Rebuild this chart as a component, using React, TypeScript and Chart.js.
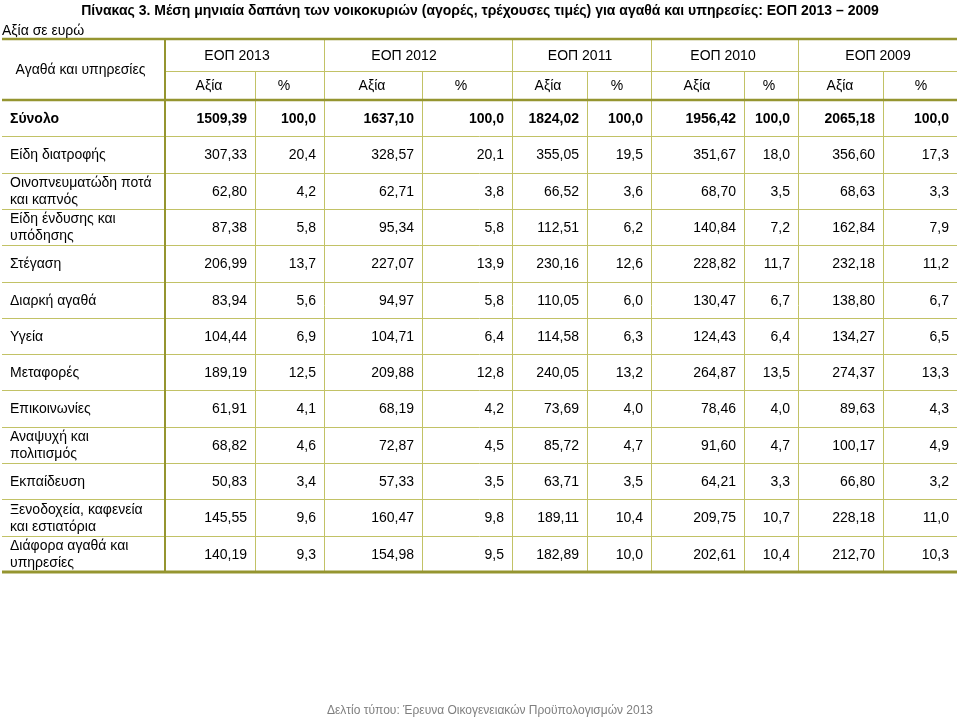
import React, { useEffect, useRef } from "react";
import { Chart, registerables } from "chart.js";

Chart.register(...registerables);

// ---------- texts ----------
const TITLE =
  "Πίνακας 3. Μέση μηνιαία δαπάνη των νοικοκυριών (αγορές, τρέχουσες τιμές) για αγαθά και υπηρεσίες: ΕΟΠ 2013 – 2009";
const UNIT_LABEL = "Αξία σε ευρώ";
const ROW_HEADER = "Αγαθά και υπηρεσίες";
const FOOTER = "Δελτίο τύπου: Έρευνα Οικογενειακών Προϋπολογισμών 2013";

// ---------- data ----------
const YEARS = ["ΕΟΠ 2013", "ΕΟΠ 2012", "ΕΟΠ 2011", "ΕΟΠ 2010", "ΕΟΠ 2009"];
const SUB_HEADERS = ["Αξία", "%"];

const CATEGORIES = [
  "Σύνολο",
  "Είδη διατροφής",
  "Οινοπνευματώδη ποτά\nκαι καπνός",
  "Είδη ένδυσης και\nυπόδησης",
  "Στέγαση",
  "Διαρκή αγαθά",
  "Υγεία",
  "Μεταφορές",
  "Επικοινωνίες",
  "Αναψυχή και\nπολιτισμός",
  "Εκπαίδευση",
  "Ξενοδοχεία, καφενεία\nκαι εστιατόρια",
  "Διάφορα αγαθά και\nυπηρεσίες",
];

const VALUES_2013 = [1509.39, 307.33, 62.8, 87.38, 206.99, 83.94, 104.44, 189.19, 61.91, 68.82, 50.83, 145.55, 140.19];
const PCT_2013 = [100.0, 20.4, 4.2, 5.8, 13.7, 5.6, 6.9, 12.5, 4.1, 4.6, 3.4, 9.6, 9.3];
const VALUES_2012 = [1637.1, 328.57, 62.71, 95.34, 227.07, 94.97, 104.71, 209.88, 68.19, 72.87, 57.33, 160.47, 154.98];
const PCT_2012 = [100.0, 20.1, 3.8, 5.8, 13.9, 5.8, 6.4, 12.8, 4.2, 4.5, 3.5, 9.8, 9.5];
const VALUES_2011 = [1824.02, 355.05, 66.52, 112.51, 230.16, 110.05, 114.58, 240.05, 73.69, 85.72, 63.71, 189.11, 182.89];
const PCT_2011 = [100.0, 19.5, 3.6, 6.2, 12.6, 6.0, 6.3, 13.2, 4.0, 4.7, 3.5, 10.4, 10.0];
const VALUES_2010 = [1956.42, 351.67, 68.7, 140.84, 228.82, 130.47, 124.43, 264.87, 78.46, 91.6, 64.21, 209.75, 202.61];
const PCT_2010 = [100.0, 18.0, 3.5, 7.2, 11.7, 6.7, 6.4, 13.5, 4.0, 4.7, 3.3, 10.7, 10.4];
const VALUES_2009 = [2065.18, 356.6, 68.63, 162.84, 232.18, 138.8, 134.27, 274.37, 89.63, 100.17, 66.8, 228.18, 212.7];
const PCT_2009 = [100.0, 17.3, 3.3, 7.9, 11.2, 6.7, 6.5, 13.3, 4.3, 4.9, 3.2, 11.0, 10.3];

const COLUMNS = [
  { values: VALUES_2013, decimals: 2 },
  { values: PCT_2013, decimals: 1 },
  { values: VALUES_2012, decimals: 2 },
  { values: PCT_2012, decimals: 1 },
  { values: VALUES_2011, decimals: 2 },
  { values: PCT_2011, decimals: 1 },
  { values: VALUES_2010, decimals: 2 },
  { values: PCT_2010, decimals: 1 },
  { values: VALUES_2009, decimals: 2 },
  { values: PCT_2009, decimals: 1 },
];

// ---------- layout (x scale units) ----------
const COL_EDGES = [2, 165, 255, 324, 422, 512, 587, 651, 744, 798, 883, 957];
const YEAR_CENTERS = [237, 404, 580, 723, 878];
const SUB_CENTERS = [209, 284, 372, 461, 548, 617, 697, 769, 840, 921];
const HEADER_TOP = 39;
const HEADER_MID = 71;
const CELL_PAD = 8;

const FONT = '"Liberation Sans", Arial, Helvetica, sans-serif';
const THICK = "#959530";
const THIN = "#c2c266";

const fmt = (v: number, d: number) => v.toFixed(d).replace(".", ",");

const tablePlugin = {
  id: "tablePlugin",
  afterDraw(chart: any) {
    const ctx = chart.ctx as CanvasRenderingContext2D;
    const xs = chart.scales.x;
    const ys = chart.scales.y;
    const n = CATEGORIES.length;
    const bodyTop = ys.getPixelForValue(-0.5);
    const bodyBottom = ys.getPixelForValue(n - 0.5);
    const X = (v: number) => xs.getPixelForValue(v);
    const left = X(COL_EDGES[0]);
    const right = X(COL_EDGES[COL_EDGES.length - 1]);

    ctx.save();
    ctx.fillStyle = "#ffffff";
    ctx.fillRect(0, 0, chart.width, chart.height);

    const hline = (y: number, x0: number, x1: number, w: number, c: string) => {
      ctx.beginPath();
      ctx.strokeStyle = c;
      ctx.lineWidth = w;
      ctx.moveTo(x0, y);
      ctx.lineTo(x1, y);
      ctx.stroke();
    };
    const vline = (x: number, y0: number, y1: number, w: number, c: string) => {
      ctx.beginPath();
      ctx.strokeStyle = c;
      ctx.lineWidth = w;
      ctx.moveTo(x, y0);
      ctx.lineTo(x, y1);
      ctx.stroke();
    };

    for (let i = 0; i < n - 1; i++) {
      const y = Math.round(ys.getPixelForValue(i + 0.5)) + 0.5;
      hline(y, left, right, 1, THIN);
    }
    hline(HEADER_MID + 0.5, X(COL_EDGES[1]), right, 1, THIN);

    for (let k = 2; k < COL_EDGES.length - 1; k++) {
      const x = Math.round(X(COL_EDGES[k])) + 0.5;
      const isYear = k % 2 === 1;
      vline(x, isYear ? HEADER_TOP : HEADER_MID, bodyBottom, 1, THIN);
    }
    vline(X(COL_EDGES[1]), HEADER_TOP, bodyBottom, 2, THICK);

    hline(HEADER_TOP, left, right, 2.5, THICK);
    hline(bodyTop, left, right, 2.5, THICK);
    hline(bodyBottom, left, right, 3, THICK);

    ctx.fillStyle = "#000";
    ctx.textBaseline = "middle";
    ctx.font = `bold 14px ${FONT}`;
    ctx.textAlign = "center";
    ctx.fillText(TITLE, 480, 11);
    ctx.font = `14px ${FONT}`;
    ctx.textAlign = "left";
    ctx.fillText(UNIT_LABEL, 2, 31);

    ctx.textAlign = "center";
    ctx.fillText(ROW_HEADER, X((COL_EDGES[0] + COL_EDGES[1]) / 2) - 3, (HEADER_TOP + bodyTop) / 2 + 1);
    YEARS.forEach((yr, i) => ctx.fillText(yr, X(YEAR_CENTERS[i]), (HEADER_TOP + HEADER_MID) / 2 + 1));
    SUB_CENTERS.forEach((c, i) =>
      ctx.fillText(SUB_HEADERS[i % 2], X(c), (HEADER_MID + bodyTop) / 2 + 1)
    );

    CATEGORIES.forEach((cat, r) => {
      const cy = ys.getPixelForValue(r) + 1;
      const bold = r === 0;
      ctx.font = `${bold ? "bold " : ""}14px ${FONT}`;
      ctx.textAlign = "left";
      const lines = cat.split("\n");
      lines.forEach((ln, j) => {
        const off = (j - (lines.length - 1) / 2) * 17;
        ctx.fillText(ln, X(COL_EDGES[0]) + 8, cy + off);
      });
      ctx.textAlign = "right";
      COLUMNS.forEach((col, c) => {
        ctx.fillText(fmt(col.values[r], col.decimals), X(COL_EDGES[c + 2]) - CELL_PAD, cy);
      });
    });

    ctx.font = `12px ${FONT}`;
    ctx.fillStyle = "#7f7f7f";
    ctx.textAlign = "center";
    ctx.fillText(FOOTER, 490, 711);
    ctx.restore();
  },
};

export default function App() {
  const ref = useRef<HTMLCanvasElement | null>(null);
  useEffect(() => {
    if (!ref.current) return;
    const chart = new Chart(ref.current, {
      type: "scatter",
      data: { labels: CATEGORIES, datasets: [] },
      options: {
        animation: false,
        responsive: false,
        maintainAspectRatio: false,
        events: [],
        layout: { padding: { left: 0, right: 0, top: 100, bottom: 146 } },
        plugins: { legend: { display: false }, tooltip: { enabled: false }, title: { display: false } },
        scales: {
          x: { type: "linear", min: 0, max: 960, display: false },
          y: { type: "category", labels: CATEGORIES, offset: true, display: false },
        },
      },
      plugins: [tablePlugin],
    });
    return () => chart.destroy();
  }, []);
  return (
    <div style={{ position: "absolute", left: 0, top: 0, width: 960, height: 718 }}>
      <canvas ref={ref} width={960} height={718} style={{ width: 960, height: 718, display: "block" }} />
    </div>
  );
}
